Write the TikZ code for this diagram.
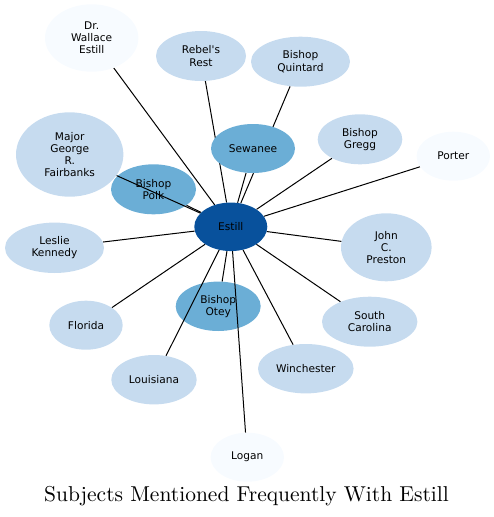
\documentclass[tikz,border=0pt]{standalone}
\usepackage{fontspec}
\newfontfamily\nodefont{DejaVu Sans}
\newfontfamily\titlefont[Extension=.otf]{lmroman10-regular}
\usetikzlibrary{shapes.geometric}
\definecolor{cdark}{RGB}{8,81,156}
\definecolor{cmid}{RGB}{107,174,214}
\definecolor{clight}{RGB}{198,219,239}
\definecolor{cpale}{RGB}{247,251,255}
\pgfdeclarelayer{bottom}
\pgfdeclarelayer{edges}
\pgfsetlayers{bottom,edges,main}
\tikzset{
  nd/.style args={#1/#2/#3}{ellipse, draw=none, fill=#1, inner sep=0pt,
    minimum width=#2pt, minimum height=#3pt, align=center,
    font=\nodefont\fontsize{10.6}{12.2}\selectfont, text=black},
  link/.style={draw=black, line width=1pt}
}
\begin{document}
\begin{tikzpicture}[x=1pt,y=-1pt]
\useasboundingbox (0,0) rectangle (494,517);
% nodes on top layer
\node[nd=cdark/73/48.5] (estill) at (230.8,226.8) {Estill};
\node[nd=cpale/93.4/67.4] (wallace) at (91.7,38) {Dr.\\Wallace\\Estill};
\node[nd=clight/90/50] (rebel) at (201,56) {Rebel's\\Rest};
\node[nd=clight/107.4/84.4] (major) at (69.7,154.5) {Major\\George\\R.\\Fairbanks};
\node[nd=cmid/84/49] (sewanee) at (253,148.5) {Sewanee};
\node[nd=clight/99/50] (quintard) at (300.5,61.7) {Bishop\\Quintard};
\node[nd=clight/84.6/50] (gregg) at (360,139.3) {Bishop\\Gregg};
\node[nd=cpale/73.4/49] (porter) at (453.3,156.2) {Porter};
\node[nd=clight/90.6/68] (preston) at (386.3,247.3) {John\\C.\\Preston};
\node[nd=clight/95.4/50] (southc) at (369.7,321.7) {South\\Carolina};
\node[nd=clight/95.6/49.4] (winch) at (305.8,368.7) {Winchester};
\node[nd=clight/99/50.4] (leslie) at (54.5,247.8) {Leslie\\Kennedy};
\node[nd=clight/73.4/49] (florida) at (86,325.2) {Florida};
\node[nd=clight/85.4/49.4] (louis) at (154,379.7) {Louisiana};
\node[nd=cpale/73.4/49] (logan) at (247.3,457.2) {Logan};
% nodes below the edges
\begin{pgfonlayer}{bottom}
\node[nd=cmid/85/50] (polk) at (153.5,189.3) {Bishop\\Polk};
\node[nd=cmid/85/49.4] (otey) at (218.2,306.3) {Bishop\\Otey};
\end{pgfonlayer}
% edges
\begin{pgfonlayer}{edges}
\foreach \t in {wallace,rebel,major,polk,sewanee,quintard,gregg,porter,preston,southc,winch,logan,otey,louis,florida,leslie}
  \draw[link] (estill) -- (\t);
\end{pgfonlayer}
% title
\node[anchor=base, inner sep=0pt, font=\titlefont\fontsize{21.5}{25}\selectfont] (title) at (246.5,501.5) {Subjects Mentioned Frequently With Estill};
\end{tikzpicture}
\end{document}
